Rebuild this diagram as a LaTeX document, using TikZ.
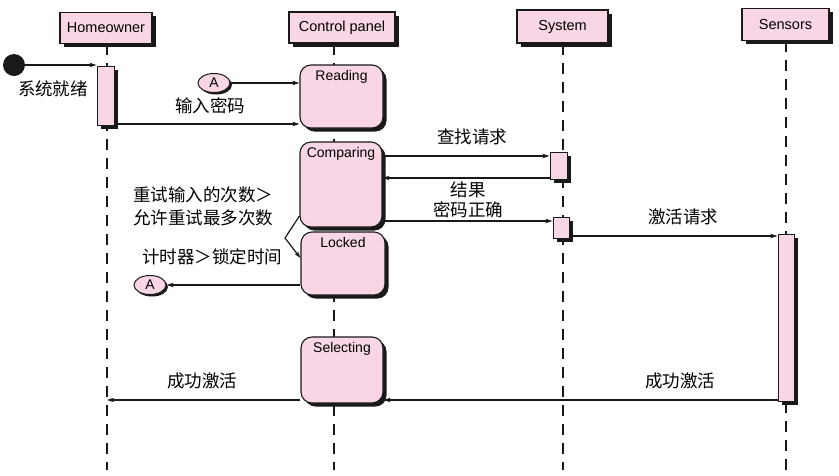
\documentclass[tikz,border=0pt]{standalone}
\usepackage{fontspec}
\setmainfont{Liberation Sans}
\newfontfamily\cjk{Noto Sans CJK SC}
\usetikzlibrary{shapes.geometric,shadows,arrows.meta}
\definecolor{pinkc}{RGB}{249,214,230}
\definecolor{ink}{RGB}{25,25,25}
\tikzset{
  shad/.style={drop shadow={shadow xshift=3.5pt,shadow yshift=-3.5pt,opacity=1,fill=ink}},
  hdr/.style={rectangle,draw=ink,line width=1.1pt,fill=pinkc,shad,inner sep=0pt,font=\fontsize{14.5}{16}\selectfont},
  statebox/.style={rectangle,rounded corners=11pt,draw=ink,line width=1.1pt,fill=pinkc,shad,inner sep=0pt},
  stlbl/.style={font=\fontsize{14}{16}\selectfont,inner sep=2pt,yshift=-4pt},
  actbar/.style={rectangle,draw=ink,line width=1pt,fill=pinkc,shad,inner sep=0pt,minimum width=16pt},
  conn/.style={ellipse,draw=ink,line width=1pt,fill=pinkc,drop shadow={shadow xshift=2pt,shadow yshift=-2pt,opacity=1,fill=ink},inner sep=0pt,minimum width=32pt,minimum height=19pt,font=\fontsize{14}{16}\selectfont},
  life/.style={draw=ink,line width=1.1pt,dash pattern=on 11pt off 8pt},
  arr/.style={draw=ink,line width=1.2pt,-{Stealth[length=7pt,width=4.5pt]}},
  zh/.style={font=\cjk\fontsize{17.5}{19}\selectfont,inner sep=0pt}
}
\begin{document}
\begin{tikzpicture}[x=1pt,y=-1pt]
\useasboundingbox (0,0) rectangle (839,475);
% headers
\node[hdr,minimum width=92pt,minimum height=31pt] (hh) at (106,28) {Homeowner};
\node[hdr,minimum width=106pt,minimum height=31pt] (cp) at (342,27.5) {Control panel};
\node[hdr,minimum width=91pt,minimum height=33pt] (sy) at (562.5,26.5) {System};
\node[hdr,minimum width=87pt,minimum height=32pt] (se) at (785.5,24.5) {Sensors};
% lifelines
\coordinate (hend) at (107,470);
\draw[life] (107,0 |- hh.south) -- (hend);
\draw[life] (334,0 |- cp.south) -- (334,470);
\draw[life] (563,0 |- sy.south) -- (563,470);
\draw[life] (786,0 |- se.south) -- (786,470);
% start
\node[circle,fill=ink,minimum size=22pt,inner sep=0pt] (start) at (14,65) {};
\node[zh] (l1) at (53,89) {系统就绪};
% activation bars
\node[actbar,minimum width=17pt,minimum height=59pt] (h1) at (105.5,95.5) {};
\node[actbar,minimum width=17pt,minimum height=27pt] (s1) at (558.5,165.5) {};
\node[actbar,minimum height=21pt] (s2) at (561,227.5) {};
\node[actbar,minimum height=167pt] (sb) at (786,317.5) {};
% states
\node[statebox,minimum width=83pt,minimum height=63pt,label={[stlbl,anchor=north]north:Reading}] (rd) at (341.5,96.5) {};
\node[statebox,minimum width=82pt,minimum height=85pt,label={[stlbl,anchor=north]north:Comparing}] (cmp) at (341,184.5) {};
\node[statebox,minimum width=84pt,minimum height=63pt,label={[stlbl,anchor=north]north:Locked}] (lk) at (343,263.5) {};
\node[statebox,minimum width=82pt,minimum height=66pt,label={[stlbl,anchor=north]north:Selecting}] (sel) at (342,370) {};
% connectors A
\node[conn] (a1) at (214,83) {A};
\node[conn] (a2) at (150,285) {A};
% messages
\draw[arr] (start.east) -- (h1.west |- start.east);
\draw[arr] (a1.east) -- (rd.west |- a1.east);
\draw[arr] (h1.east |- 0,124) -- (rd.west |- 0,124);
\node[zh] (l2) at (210,106) {输入密码};
\draw[arr] (cmp.east |- 0,156) -- (s1.west |- 0,156);
\node[zh] (l3) at (472,137) {查找请求};
\draw[arr] (s1.west |- 0,178) -- (cmp.east |- 0,178);
\node[zh] (l4) at (468,190) {结果};
\draw[arr] (cmp.east |- 0,221) -- (s2.west |- 0,221);
\node[zh] (l5) at (468,210) {密码正确};
\draw[arr] (s2.east |- 0,236) -- (sb.west |- 0,236);
\node[zh] (l6) at (683,217) {激活请求};
\draw[arr] (cmp.west |- 0,216) -- (285,238) -- (lk.west |- 0,258);
\node[zh] (l7) at (203,195) {重试输入的次数＞};
\node[zh] (l8) at (203,218) {允许重试最多次数};
\node[zh] (l9) at (212,257) {计时器＞锁定时间};
\draw[arr] (lk.west |- 0,285) -- (a2.east);
\draw[arr] (sb.west |- 0,400) -- (sel.east |- 0,400);
\draw[arr] (sel.west |- 0,400) -- (hend |- 0,400);
\node[zh] (l10) at (202,381) {成功激活};
\node[zh] (l11) at (680,381) {成功激活};
\end{tikzpicture}
\end{document}
